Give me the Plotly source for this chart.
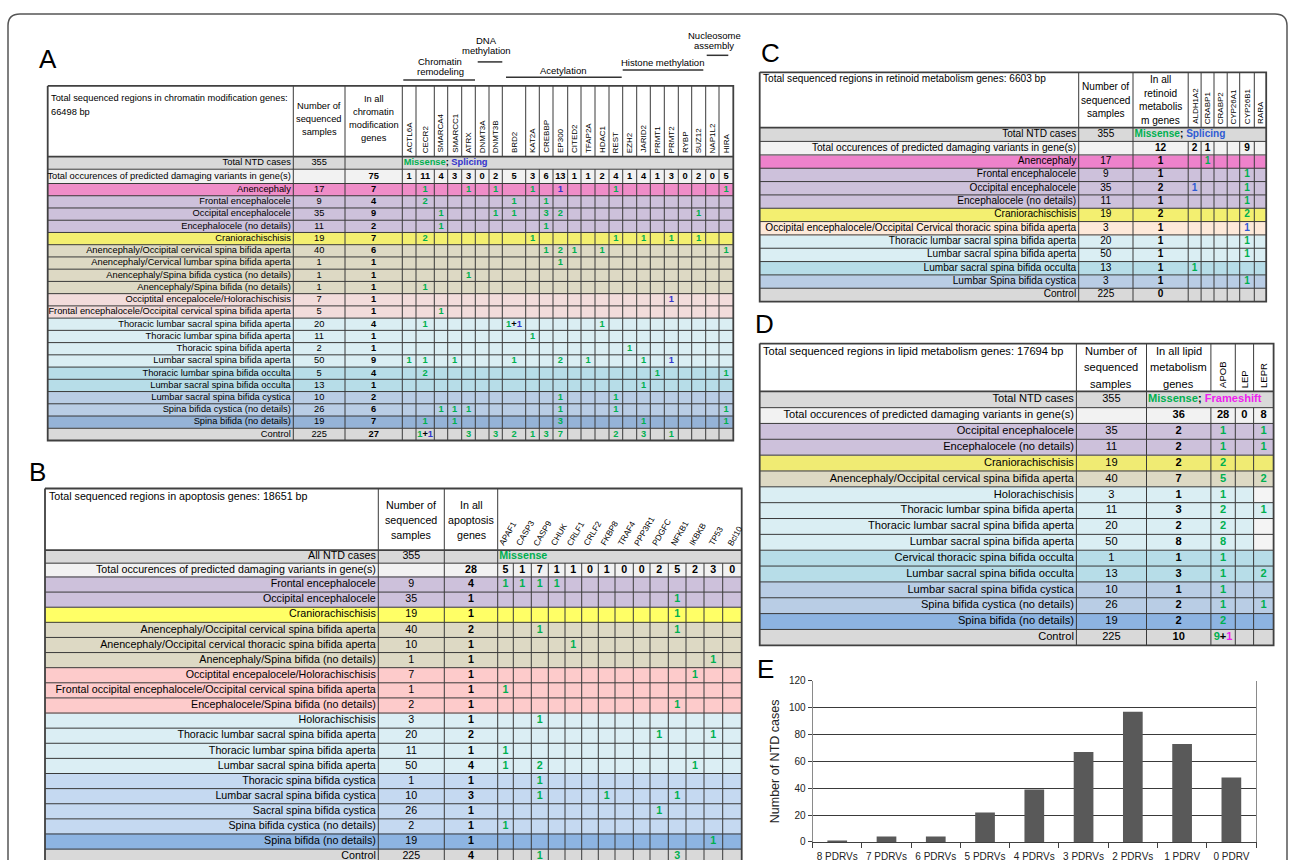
import plotly.graph_objects as go

# ============================ DATA ============================
# ---- Panel A : chromatin modification genes ----
A_title = ["Total sequenced regions in chromatin modification genes:", "66498 bp"]
A_head_samples = ["Number of", "sequenced", "samples"]
A_head_all = ["In all", "chromatin", "modification", "genes"]
A_gene_groups = [["Chromatin", "remodeling"], ["DNA", "methylation"], ["Acetylation"],
                 ["Histone methylation"], ["Nucleosome", "assembly"]]
A_genes = ["ACTL6A", "CECR2", "SMARCA4", "SMARCC1", "ATRX", "DNMT3A", "DNMT3B", "BRD2", "KAT2A",
           "CREBBP", "EP300", "CITED2", "TFAP2A", "HDAC1", "REST", "EZH2", "JARID2", "PRMT1",
           "PRMT2", "RYBP", "SUZ12", "NAP1L2", "HIRA"]
A_gene_totals = [1, 11, 4, 3, 3, 0, 2, 5, 3, 6, 13, 1, 1, 2, 4, 1, 4, 1, 3, 0, 2, 0, 5]
A_cases_label = "Total NTD cases"
A_cases = 355
A_occ_label = "Total occurences of predicted damaging variants in gene(s)"
A_occ_total = 75
A_legend = [("Missense", "m"), ("Splicing", "s")]
A_rows = ["Anencephaly", "Frontal encephalocele", "Occipital encephalocele", "Encephalocele (no details)",
          "Craniorachischisis", "Anencephaly/Occipital cervical spina bifida aperta",
          "Anencephaly/Cervical lumbar spina bifida aperta", "Anencephaly/Spina bifida cystica (no details)",
          "Anencephaly/Spina bifida (no details)", "Occiptital encepalocele/Holorachischisis",
          "Frontal encephalocele/Occipital cervical spina bifida aperta",
          "Thoracic lumbar sacral spina bifida aperta", "Thoracic lumbar spina bifida aperta",
          "Thoracic spina bifida aperta", "Lumbar sacral spina bifida aperta",
          "Thoracic lumbar spina bifida occulta", "Lumbar sacral spina bifida occulta",
          "Lumbar sacral spina bifida cystica", "Spina bifida cystica (no details)",
          "Spina bifida (no details)", "Control"]
A_samples = [17, 9, 35, 11, 19, 40, 1, 1, 1, 7, 5, 20, 11, 2, 50, 5, 13, 10, 26, 19, 225]
A_in_all = [7, 4, 9, 2, 7, 6, 1, 1, 1, 1, 1, 4, 1, 1, 9, 4, 1, 2, 6, 7, 27]
A_groups = ["anencephaly", "encephalocele", "encephalocele", "encephalocele", "craniorachischisis",
            "anen_sb", "anen_sb", "anen_sb", "anen_sb", "enc_multi", "enc_multi",
            "aperta", "aperta", "aperta", "aperta", "occulta", "occulta", "cystica", "cystica",
            "sb_nd", "control"]
# gene:code  (m = missense, s = splicing, f = frameshift)
A_hits = [
    "CECR2:m1 ATRX:m1 DNMT3B:m1 KAT2A:m1 EP300:s1 REST:m1 HIRA:m1",
    "CECR2:m2 BRD2:m1 CREBBP:m1",
    "SMARCA4:m1 DNMT3B:m1 BRD2:m1 CREBBP:m3 EP300:m2 SUZ12:m1",
    "SMARCA4:m1 CREBBP:m1",
    "CECR2:m2 KAT2A:m1 REST:m1 JARID2:m1 PRMT2:m1 SUZ12:m1",
    "CREBBP:m1 EP300:m2 CITED2:m1 HDAC1:m1 HIRA:m1",
    "EP300:m1",
    "ATRX:m1",
    "CECR2:m1",
    "PRMT2:s1",
    "SMARCA4:m1",
    "CECR2:m1 BRD2:m1+s1 HDAC1:m1",
    "KAT2A:m1",
    "EZH2:m1",
    "ACTL6A:m1 CECR2:m1 SMARCC1:m1 BRD2:m1 EP300:m2 TFAP2A:m1 JARID2:m1 PRMT2:s1",
    "CECR2:m2 PRMT1:m1 HIRA:m1",
    "JARID2:m1",
    "EP300:m1 REST:m1",
    "SMARCA4:m1 SMARCC1:m1 ATRX:m1 EP300:m1 REST:m1 HIRA:m1",
    "CECR2:m1 SMARCC1:m1 EP300:m3 JARID2:m1 HIRA:m1",
    "CECR2:m1+s1 ATRX:m3 DNMT3B:m3 BRD2:m2 KAT2A:m1 CREBBP:m3 EP300:m7 REST:m2 JARID2:m3 PRMT2:m1",
]

# ---- Panel B : apoptosis genes ----
B_title = ["Total sequenced regions in apoptosis genes: 18651 bp"]
B_head_samples = ["Number of", "sequenced", "samples"]
B_head_all = ["In all", "apoptosis", "genes"]
B_genes = ["APAF1", "CASP3", "CASP9", "CHUK", "CRLF1", "CRLF2", "FKBP8", "TRAF4", "PPP3R1",
           "PDGFC", "NFKB1", "IKBKB", "TP53", "Bcl10"]
B_gene_totals = [5, 1, 7, 1, 1, 0, 1, 0, 0, 2, 5, 2, 3, 0]
B_cases_label = "All NTD cases"
B_cases = 355
B_occ_label = "Total occurences of predicted damaging variants in gene(s)"
B_occ_total = 28
B_legend = [("Missense", "m")]
B_rows = ["Frontal encephalocele", "Occipital encephalocele", "Craniorachischisis",
          "Anencephaly/Occipital cervical spina bifida aperta",
          "Anencephaly/Occipital cervical thoracic spina bifida aperta",
          "Anencephaly/Spina bifida (no details)", "Occiptital encepalocele/Holorachischisis",
          "Frontal occipital encephalocele/Occipital cervical spina bifida aperta",
          "Encephalocele/Spina bifida (no details)", "Holorachischisis",
          "Thoracic lumbar sacral spina bifida aperta", "Thoracic lumbar spina bifida aperta",
          "Lumbar sacral spina bifida aperta", "Thoracic spina bifida cystica",
          "Lumbar sacral spina bifida cystica", "Sacral spina bifida cystica",
          "Spina bifida cystica (no details)", "Spina bifida (no details)", "Control"]
B_samples = [9, 35, 19, 40, 10, 1, 7, 1, 2, 3, 20, 11, 50, 1, 10, 26, 2, 19, 225]
B_in_all = [4, 1, 1, 2, 1, 1, 1, 1, 1, 1, 2, 1, 4, 1, 3, 1, 1, 1, 4]
B_groups = ["encephalocele", "encephalocele", "craniorachischisis", "anen_sb", "anen_sb", "anen_sb",
            "enc_multi", "enc_multi", "enc_multi", "aperta", "aperta", "aperta", "aperta",
            "cystica", "cystica", "cystica", "cystica", "sb_nd", "control"]
B_hits = [
    "APAF1:m1 CASP3:m1 CASP9:m1 CHUK:m1",
    "NFKB1:m1",
    "NFKB1:m1",
    "CASP9:m1 NFKB1:m1",
    "CRLF1:m1",
    "TP53:m1",
    "IKBKB:m1",
    "APAF1:m1",
    "NFKB1:m1",
    "CASP9:m1",
    "PDGFC:m1 TP53:m1",
    "APAF1:m1",
    "APAF1:m1 CASP9:m2 IKBKB:m1",
    "CASP9:m1",
    "CASP9:m1 FKBP8:m1 NFKB1:m1",
    "PDGFC:m1",
    "APAF1:m1",
    "TP53:m1",
    "CASP9:m1 NFKB1:m3",
]

# ---- Panel C : retinoid metabolism genes ----
C_title = ["Total sequenced regions in retinoid metabolism genes: 6603 bp"]
C_head_samples = ["Number of", "sequenced", "samples"]
C_head_all = ["In all", "retinoid", "metabolis", "m genes"]
C_genes = ["ALDH1A2", "CRABP1", "CRABP2", "CYP26A1", "CYP26B1", "RARA"]
C_gene_totals = ["2", "1", "", "", "9", ""]
C_cases_label = "Total NTD cases"
C_cases = 355
C_occ_label = "Total occurences of predicted damaging variants in gene(s)"
C_occ_total = 12
C_legend = [("Missense", "m"), ("Splicing", "s")]
C_rows = ["Anencephaly", "Frontal encephalocele", "Occipital encephalocele", "Encephalocele (no details)",
          "Craniorachischisis", "Occipital encephalocele/Occipital Cervical thoracic spina bifida aperta",
          "Thoracic lumbar sacral spina bifida aperta", "Lumbar sacral spina bifida aperta",
          "Lumbar sacral spina bifida occulta", "Lumbar Spina bifida cystica", "Control"]
C_samples = [17, 9, 35, 11, 19, 3, 20, 50, 13, 3, 225]
C_in_all = [1, 1, 2, 1, 2, 1, 1, 1, 1, 1, 0]
C_groups = ["anencephaly", "encephalocele", "encephalocele", "encephalocele", "craniorachischisis",
            "enc_multi", "aperta", "aperta", "occulta", "cystica", "control"]
C_hits = ["CRABP1:m1", "CYP26B1:m1", "ALDH1A2:s1 CYP26B1:m1", "CYP26B1:m1", "CYP26B1:m2",
          "CYP26B1:s1", "CYP26B1:m1", "CYP26B1:m1", "ALDH1A2:m1", "CYP26B1:m1", ""]

# ---- Panel D : lipid metabolism genes ----
D_title = ["Total sequenced regions in lipid metabolism genes: 17694 bp"]
D_head_samples = ["Number of", "sequenced", "samples"]
D_head_all = ["In all lipid", "metabolism", "genes"]
D_genes = ["APOB", "LEP", "LEPR"]
D_gene_totals = [28, 0, 8]
D_cases_label = "Total NTD cases"
D_cases = 355
D_occ_label = "Total occurences of predicted damaging variants in gene(s)"
D_occ_total = 36
D_legend = [("Missense", "m"), ("Frameshift", "f")]
D_rows = ["Occipital encephalocele", "Encephalocele (no details)", "Craniorachischisis",
          "Anencephaly/Occipital cervical spina bifida aperta", "Holorachischisis",
          "Thoracic lumbar spina bifida aperta", "Thoracic lumbar sacral spina bifida aperta",
          "Lumbar sacral spina bifida aperta", "Cervical thoracic spina bifida occulta",
          "Lumbar sacral spina bifida occulta", "Lumbar sacral spina bifida cystica",
          "Spina bifida cystica (no details)", "Spina bifida (no details)", "Control"]
D_samples = [35, 11, 19, 40, 3, 11, 20, 50, 1, 13, 10, 26, 19, 225]
D_in_all = [2, 2, 2, 7, 1, 3, 2, 8, 1, 3, 1, 2, 2, 10]
D_groups = ["encephalocele", "encephalocele", "craniorachischisis", "anen_sb", "aperta", "aperta",
            "aperta", "aperta", "occulta", "occulta", "cystica", "cystica", "sb_nd", "control"]
D_hits = ["APOB:m1 LEPR:m1", "APOB:m1 LEPR:m1", "APOB:m2", "APOB:m5 LEPR:m2", "APOB:m1",
          "APOB:m2 LEPR:m1", "APOB:m2", "APOB:m8", "APOB:m1", "APOB:m1 LEPR:m2", "APOB:m1",
          "APOB:m1 LEPR:m1", "APOB:m2", "APOB:m9+f1"]

# ---- Panel E : bar chart ----
E_categories = ["8 PDRVs", "7 PDRVs", "6 PDRVs", "5 PDRVs", "4 PDRVs", "3 PDRVs", "2 PDRVs", "1 PDRV", "0 PDRV"]
E_values = [1, 4, 4, 22, 39, 67, 97, 73, 48]
E_ytitle = "Number of NTD cases"

PANEL_LETTERS = ["A", "B", "C", "D", "E"]

# ============================ STYLE ============================
W, H = 1295, 866
FONT = "Liberation Sans, Arial, sans-serif"
GREEN, BLUE, MAGENTA = "#00B050", "#3333CC", "#F020F0"

BASE_PAL = {"total": "#D9D9D9", "occ": "#F2F2F2", "anencephaly": "#EF8DC8", "encephalocele": "#CDC1DB",
            "craniorachischisis": "#F3EF70", "anen_sb": "#DDD9C4", "enc_multi": "#F2DCDB",
            "aperta": "#DAEEF3", "occulta": "#B7DDE8", "cystica": "#B9CDE5", "sb_nd": "#95B3D7",
            "control": "#D9D9D9"}

A_style = dict(
    col_edges=[47.7, 293.3, 345.0, 402.3, 416.0, 434.3, 447.7, 461.7, 475.3, 489.0, 502.3, 525.7,
               539.3, 553.0, 567.7, 581.0, 595.0, 609.0, 622.7, 636.7, 650.3, 664.3, 678.3, 691.7,
               705.7, 719.0, 733.3],
    top=81.0, head_h=71.7, cases_h=12.8, occ_h=14.5, row_h=12.41,
    fs=9.3, fs_gene=8, head_cy=114.2, head_dy=13.1, title_y=93.3, title_dy=14.0,
    gene_angle=-90, head_merge=99, legend_col=3,
    palette=BASE_PAL, types={"m": GREEN, "s": BLUE, "f": MAGENTA})

B_style = dict(
    col_edges=[45.0, 378.3, 444.3, 497.7, 513.3, 531.3, 548.3, 565.0, 581.7, 598.3, 615.0, 633.3,
               650.0, 668.3, 686.0, 704.0, 722.7, 741.7],
    top=489.3, head_h=62.4, cases_h=13.3, occ_h=14.0, row_h=15.33,
    fs=10.7, fs_gene=8.3, head_cy=521.1, head_dy=15.5, title_y=497.3, title_dy=14.0,
    gene_angle=-60, head_merge=3, legend_col=3,
    palette=dict(BASE_PAL, craniorachischisis="#FFFF66", enc_multi="#FDCBCB", aperta="#DBEEF4",
                 cystica="#C5D9F1", sb_nd="#8DB4E2"),
    types={"m": GREEN, "s": BLUE, "f": MAGENTA})

C_style = dict(
    col_edges=[759.7, 1078.7, 1133.0, 1188.2, 1201.1, 1214.0, 1227.2, 1239.7, 1254.3, 1266.2],
    top=67.3, head_h=56.0, cases_h=14.0, occ_h=13.7, row_h=13.52,
    fs=10.1, fs_gene=8, head_cy=95.5, head_dy=13.7, title_y=74.0, title_dy=14.0,
    gene_angle=-90, head_merge=99, legend_col=2,
    palette=dict(BASE_PAL, anencephaly="#EE82CB", enc_multi="#FDE9D9"),
    types={"m": GREEN, "s": "#2F5BD3", "f": MAGENTA})

D_style = dict(
    col_edges=[759.7, 1076.4, 1146.5, 1210.9, 1235.3, 1253.6, 1273.6],
    top=342.3, head_h=48.4, cases_h=16.6, occ_h=16.0, row_h=16.07,
    fs=11.1, fs_gene=9.5, head_cy=366.5, head_dy=16.3, title_y=350.0, title_dy=14.0,
    gene_angle=-90, head_merge=99, legend_col=2,
    palette=dict(BASE_PAL, craniorachischisis="#F0EB73", sb_nd="#8DB4E2"),
    overrides=[("Holorachischisis", "LEPR", "#F4F4F4"),
               ("Thoracic lumbar sacral spina bifida aperta", "LEPR", "#F4F4F4"),
               ("Lumbar sacral spina bifida aperta", "LEPR", "#F4F4F4")],
    types={"m": GREEN, "s": BLUE, "f": MAGENTA})

LETTER_POS = [(48, 54), (37, 473), (770, 47.5), (764, 322.5), (765, 672.5)]
A_GROUP_POS = [  # (text center x, first line y, line dy, underline x0, x1, y)
    (440.0, 56.7, 10.0, 403.3, 475.0, 75.0),
    (486.7, 35.0, 10.0, 477.7, 502.3, 56.7),
    (563.3, 65.0, 10.0, 506.0, 621.7, 72.3),
    (662.3, 57.3, 10.0, 622.7, 703.3, 65.0),
    (714.0, 30.0, 10.0, 706.7, 728.3, 50.0),
]
E_X_DOMAIN = [812.6 / W, 1256.0 / W]
E_Y_DOMAIN = [1 - 847.7 / H, 1 - 684.3 / H]

# ============================ BUILD ============================
fig = go.Figure()
ann, shapes = [], []
txt_groups = {}


def add_text(x, y, text, color, pos, bold, size):
    key = (pos, bold, size)
    g = txt_groups.setdefault(key, dict(x=[], y=[], text=[], color=[]))
    g["x"].append(x)
    g["y"].append(y)
    g["text"].append(text)
    g["color"].append(color)


def add_ann(x, y, text, size, xanchor="center", yanchor="middle", angle=0, color="#000"):
    ann.append(dict(x=x, y=y, xref="x", yref="y", text=text, showarrow=False, xanchor=xanchor,
                    yanchor=yanchor, textangle=angle, borderpad=0,
                    font=dict(family=FONT, size=size, color=color)))


def draw_table(T, S):
    cx = S["col_edges"]
    ry = [S["top"], S["top"] + S["head_h"]]
    ry.append(ry[-1] + S["cases_h"])
    ry.append(ry[-1] + S["occ_h"])
    for _ in T["rows"]:
        ry.append(ry[-1] + S["row_h"])
    ncol, nrow = len(cx) - 1, len(ry) - 1
    g0 = ncol - len(T["genes"])
    mx = [(cx[j] + cx[j + 1]) / 2 for j in range(ncol)]
    my = [(ry[r] + ry[r + 1]) / 2 for r in range(nrow)]

    # cell fills
    pal = dict(S["palette"])
    keys = ["total", "occ"] + list(dict.fromkeys(T["groups"]))
    for i, (_, _, col) in enumerate(S.get("overrides", [])):
        pal[f"ov{i}"] = col
        keys.append(f"ov{i}")
    idx = {k: i for i, k in enumerate(keys)}
    z = [[None] * ncol, [idx["total"]] * ncol, [idx["occ"]] * ncol]
    z += [[idx[g]] * ncol for g in T["groups"]]
    for i, (rname, gname, _) in enumerate(S.get("overrides", [])):
        z[3 + T["rows"].index(rname)][g0 + T["genes"].index(gname)] = idx[f"ov{i}"]
    n = len(keys)
    cs = [[i / (n - 1), pal[k]] for i, k in enumerate(keys)]
    fig.add_trace(go.Heatmap(x=cx, y=ry, z=z, zmin=0, zmax=n - 1, colorscale=cs, showscale=False,
                             hoverinfo="skip", xaxis="x", yaxis="y"))

    # grid
    xs, ys = [], []
    for y in ry[2:-1]:
        xs += [cx[0], cx[-1], None]
        ys += [y, y, None]
    for j in range(1, ncol):
        for r in range(nrow):
            if r == 0 and j > S["head_merge"]:
                continue
            if r == 1 and j > S["legend_col"]:
                continue
            xs += [cx[j], cx[j], None]
            ys += [ry[r], ry[r + 1], None]
    fig.add_trace(go.Scatter(x=xs, y=ys, mode="lines", line=dict(color="#3a3a3a", width=1),
                             hoverinfo="skip", xaxis="x", yaxis="y"))
    bx = [cx[0], cx[-1], cx[-1], cx[0], cx[0], None, cx[0], cx[-1]]
    by = [ry[0], ry[0], ry[-1], ry[-1], ry[0], None, ry[1], ry[1]]
    fig.add_trace(go.Scatter(x=bx, y=by, mode="lines", line=dict(color="#404040", width=1.8),
                             hoverinfo="skip", xaxis="x", yaxis="y"))

    fs = S["fs"]
    lab_x = cx[1] - 2.5
    # header texts
    for i, line in enumerate(T["title"]):
        add_ann(cx[0] + 2.5, S["title_y"] + i * S["title_dy"], line, fs, xanchor="left")
    for col, lines in ((1, T["head_samples"]), (2, T["head_all"])):
        nl = len(lines)
        for i, line in enumerate(lines):
            add_ann(mx[col], S["head_cy"] + (i - (nl - 1) / 2) * S["head_dy"], line, fs)
    for i, gname in enumerate(T["genes"]):
        j = g0 + i
        if S["gene_angle"] == -90:
            add_ann(mx[j], ry[1] - 2.5, gname, S["fs_gene"], yanchor="bottom", angle=-90)
        else:
            add_ann(mx[j] + 2.5, ry[1] - 1.5, gname, S["fs_gene"], yanchor="bottom", angle=S["gene_angle"])

    # totals rows
    tc = S["types"]
    add_text(lab_x, my[1], T["cases_label"], "#000", "middle left", False, fs)
    add_text(mx[1], my[1], str(T["cases"]), "#000", "middle center", False, fs)
    legend = "; ".join(f"<span style='color:{tc[t]}'>{w}</span>" for w, t in T["legend"])
    add_text(cx[S["legend_col"]] + 1.5, my[1], legend, "#000", "middle right", True, fs)
    add_text(lab_x, my[2], T["occ_label"], "#000", "middle left", False, fs)
    add_text(mx[2], my[2], str(T["occ_total"]), "#000", "middle center", True, fs)
    for i, v in enumerate(T["gene_totals"]):
        if str(v) != "":
            add_text(mx[g0 + i], my[2], str(v), "#000", "middle center", True, fs)

    # body rows
    for k, name in enumerate(T["rows"]):
        r = 3 + k
        add_text(lab_x, my[r], name, "#000", "middle left", False, fs)
        add_text(mx[1], my[r], str(T["samples"][k]), "#000", "middle center", False, fs)
        add_text(mx[2], my[r], str(T["in_all"][k]), "#000", "middle center", True, fs)
        for tok in T["hits"][k].split():
            gname, code = tok.split(":")
            parts = [(p[0], p[1:]) for p in code.split("+")]
            j = g0 + T["genes"].index(gname)
            if len(parts) == 1:
                text, col = parts[0][1], tc[parts[0][0]]
            else:
                text = "+".join(f"<span style='color:{tc[t]}'>{v}</span>" for t, v in parts)
                col = "#000"
            add_text(mx[j], my[r], text, col, "middle center", True, fs)


def pack(prefix):
    g = globals()
    return {k: g[prefix + "_" + k] for k in ["title", "head_samples", "head_all", "genes", "gene_totals",
                                              "cases_label", "cases", "occ_label", "occ_total", "legend",
                                              "rows", "samples", "in_all", "groups", "hits"]}


draw_table(pack("A"), A_style)
draw_table(pack("B"), B_style)
draw_table(pack("C"), C_style)
draw_table(pack("D"), D_style)

for (pos, bold, size), g in txt_groups.items():
    fig.add_trace(go.Scatter(x=g["x"], y=g["y"], text=g["text"], mode="text", textposition=pos,
                             textfont=dict(family=FONT, size=size, color=g["color"],
                                           weight="bold" if bold else "normal"),
                             hoverinfo="skip", xaxis="x", yaxis="y", cliponaxis=False))

# gene group headers of panel A
for lines, (gx, gy, gdy, lx0, lx1, ly) in zip(A_gene_groups, A_GROUP_POS):
    for i, line in enumerate(lines):
        add_ann(gx, gy + i * gdy, line, 9.5)
    shapes.append(dict(type="line", xref="x", yref="y", x0=lx0, x1=lx1, y0=ly, y1=ly,
                       line=dict(color="#333", width=1.5)))

# panel letters
for letter, (lx, ly) in zip(PANEL_LETTERS, LETTER_POS):
    add_ann(lx, ly, letter, 26)

# outer rounded frame
shapes.append(dict(type="path", xref="x", yref="y",
                   path="M 8,900 L 8,20 Q 8,8 20,8 L 1275,8 Q 1287,8 1287,20 L 1287,900",
                   line=dict(color="#555", width=1.5)))

# panel E bar chart
fig.add_trace(go.Bar(x=E_categories, y=E_values, width=0.4, marker=dict(color="#595959", line=dict(width=0)),
                     xaxis="x2", yaxis="y2", hoverinfo="skip"))

fig.update_layout(
    width=W, height=H, margin=dict(l=0, r=0, t=0, b=0),
    paper_bgcolor="white", plot_bgcolor="rgba(0,0,0,0)", showlegend=False,
    font=dict(family=FONT, color="#000"),
    annotations=ann, shapes=shapes, hovermode=False,
    xaxis=dict(domain=[0, 1], range=[0, W], visible=False, fixedrange=True),
    yaxis=dict(domain=[0, 1], range=[H, 0], visible=False, fixedrange=True),
    xaxis2=dict(domain=E_X_DOMAIN, anchor="y2", showline=True, linecolor="#404040", linewidth=1,
                ticks="outside", tickson="boundaries", ticklen=5, tickcolor="#404040", tickangle=0,
                ticklabelstandoff=5,
                tickfont=dict(family=FONT, size=10, color="#222"), showgrid=False, fixedrange=True),
    yaxis2=dict(domain=E_Y_DOMAIN, anchor="x2", range=[0, 120], dtick=20, showgrid=True,
                gridcolor="#3a3a3a", gridwidth=1, zeroline=False, showline=True, linecolor="#8a8a8a",
                mirror=True, ticks="outside", ticklen=4, tickcolor="#404040",
                tickfont=dict(family=FONT, size=10, color="#222"),
                title=dict(text=E_ytitle, font=dict(family=FONT, size=12.5, color="#222"), standoff=6),
                fixedrange=True),
)

fig.write_html("out.html", config={"displayModeBar": False},
               post_script="document.body.style.margin='0px';document.body.style.overflow='hidden';")
